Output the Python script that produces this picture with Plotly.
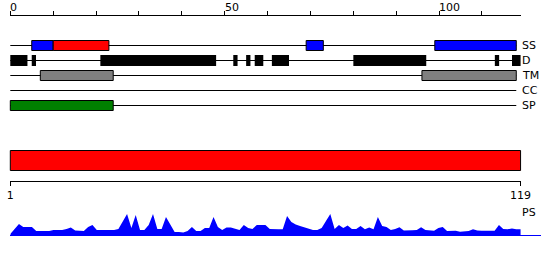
import plotly.graph_objects as go

# ---------------- data ----------------
SEQ_LEN = 119
TRACKS = ["SS", "D", "TM", "CC", "SP"]
TRACK_END = 118

SS_START = [5, 10, 69, 99]
SS_END = [10, 23, 73, 118]
SS_COLOR = ["#0000ff", "#ff0000", "#0000ff", "#0000ff"]

D_START = [0, 5, 21, 52, 55, 57, 61, 80, 113, 117]
D_END = [4, 6, 48, 53, 56, 59, 65, 97, 114, 119]

TM_START = [7, 96]
TM_END = [24, 118]

CC_START = []
CC_END = []

SP_START = [0]
SP_END = [24]

TOP_TICK_LABELS = [0, 50, 100]
BOTTOM_TICKS = [1, 119]
PS_LABEL = "PS"

RESIDUES = list(range(1, SEQ_LEN + 1))
PS_VALUES = [
    1, 6, 11, 8, 8, 8, 4, 4, 4, 4,
    5, 5, 5, 6, 7.5, 4.5, 4, 4, 8, 10,
    5, 5, 5, 5, 5, 6, 14, 21, 7, 20,
    5, 5, 10, 21, 6, 6, 18, 10, 3, 3,
    2.5, 4, 8, 4, 4, 7, 7, 18, 8, 5,
    7.5, 7.5, 6, 5, 10, 7, 6, 10, 10, 10,
    6, 5.5, 5.7, 5.7, 19, 13, 10.5, 9, 7.7, 6.5,
    5, 5, 7, 14, 21, 6, 10, 7, 9.5, 6,
    6, 9, 5.7, 7.5, 5.7, 18, 9, 8, 5, 6,
    7.7, 4.5, 4.3, 4.7, 5, 7.7, 5, 4.5, 4.3, 7,
    8, 4, 4.3, 4.3, 3.3, 3.3, 4, 5.7, 4.5, 4.3,
    4.3, 4.3, 4.3, 10, 6, 5.7, 6.5, 5.7, 5.7,
]

# ---------------- layout constants ----------------
W, H = 550, 260
X0_PX = 10.3
PX_PER = 4.288
X_END_PX = X0_PX + SEQ_LEN * PX_PER
BOT_PX_PER = SEQ_LEN * PX_PER / (SEQ_LEN - 1)
AREA_END_PX = 540.7
FONT = "DejaVu Sans"
FS = 11

TRACK_Y = {"SS": 45.5, "D": 60.5, "TM": 75.5, "CC": 90.5, "SP": 105.5}
BOX_HALF = {"SS": 5, "D": 5.5, "TM": 5, "CC": 5, "SP": 5}

features = {
    "SS": (SS_START, SS_END, SS_COLOR, True),
    "D": (D_START, D_END, ["#000000"] * len(D_START), False),
    "TM": (TM_START, TM_END, ["#808080"] * len(TM_START), True),
    "CC": (CC_START, CC_END, ["#000000"] * len(CC_START), True),
    "SP": (SP_START, SP_END, ["#008000"] * len(SP_START), True),
}

fig = go.Figure()

# profile area
fig.add_trace(go.Scatter(
    x=RESIDUES, y=PS_VALUES, xaxis="x4", yaxis="y2",
    mode="lines", fill="tozeroy", line=dict(width=0, color="#0000ff"),
    fillcolor="#0000ff", hoverinfo="skip", showlegend=False,
))
# invisible anchor traces so every axis gets its subplot
for xa in ["x", "x2", "x3"]:
    fig.add_trace(go.Scatter(x=[1], y=[-100], xaxis=xa, yaxis="y", mode="markers",
                             marker=dict(opacity=0), hoverinfo="skip", showlegend=False))

shapes = []
annotations = []
for t in TRACKS:
    yc = TRACK_Y[t]
    shapes.append(dict(type="line", xref="x", yref="y", x0=0, x1=TRACK_END,
                       y0=yc, y1=yc, line=dict(color="black", width=1)))
    starts, ends, colors, border = features[t]
    h = BOX_HALF[t]
    for s, e, c in zip(starts, ends, colors):
        shapes.append(dict(type="rect", xref="x", yref="y", x0=s, x1=e,
                           y0=yc - h, y1=yc + h, fillcolor=c,
                           line=dict(color="black", width=1 if border else 0)))
    annotations.append(dict(text=t, xref="paper", yref="y", x=X_END_PX / W, y=yc,
                            xanchor="left", yanchor="middle", showarrow=False,
                            xshift=-1, font=dict(family=FONT, size=FS, color="black")))

# whole-sequence bar
shapes.append(dict(type="rect", xref="x", yref="y", x0=0, x1=SEQ_LEN,
                   y0=150.5, y1=170.5, fillcolor="#ff0000",
                   line=dict(color="black", width=1)))

for v in TOP_TICK_LABELS:
    annotations.append(dict(text=str(v), xref="x2", yref="paper", x=v, y=(H - 7.3) / H,
                            xanchor="left", yanchor="middle", showarrow=False, xshift=-2,
                            font=dict(family=FONT, size=FS, color="black")))

annotations.append(dict(text=PS_LABEL, xref="paper", yref="paper", x=X_END_PX / W,
                        y=(H - 212) / H, xanchor="left", yanchor="middle", showarrow=False,
                        xshift=-1, font=dict(family=FONT, size=FS, color="black")))

fig.update_layout(
    width=W, height=H, margin=dict(l=0, r=0, t=0, b=0, autoexpand=False),
    paper_bgcolor="white", plot_bgcolor="rgba(0,0,0,0)", showlegend=False,
    font=dict(family=FONT, size=FS, color="black"),
    xaxis=dict(domain=[0, 1], range=[-X0_PX / PX_PER, (W - X0_PX) / PX_PER],
               visible=False, fixedrange=True),
    yaxis=dict(domain=[0, 1], range=[H, 0], visible=False, fixedrange=True),
    xaxis2=dict(domain=[X0_PX / W, X_END_PX / W], range=[0, SEQ_LEN], anchor="free",
                position=(H - 14.5) / H, side="top", showline=True, linecolor="black",
                linewidth=1, ticks="outside", ticklen=4, tickcolor="black", tick0=0,
                dtick=10, showticklabels=False, showgrid=False, zeroline=False,
                automargin=False),
    xaxis3=dict(domain=[X0_PX / W, X_END_PX / W], range=[1, SEQ_LEN], anchor="free",
                position=(H - 180.5) / H, side="bottom", showline=True, linecolor="black",
                linewidth=1, ticks="outside", ticklen=4, tickcolor="black",
                tickvals=BOTTOM_TICKS, ticktext=[str(v) for v in BOTTOM_TICKS],
                tickfont=dict(family=FONT, size=FS, color="black"),
                showgrid=False, zeroline=False, automargin=False),
    xaxis4=dict(domain=[X0_PX / W, AREA_END_PX / W],
                range=[1, 1 + (AREA_END_PX - X0_PX) / BOT_PX_PER], anchor="y2",
                visible=False),
    yaxis2=dict(domain=[(H - 235.5) / H, (H - 205) / H], range=[-0.5, 30], anchor="x4",
                showticklabels=False, showgrid=False, showline=False, ticks="",
                zeroline=True, zerolinecolor="#0000ff", zerolinewidth=1),
    shapes=shapes, annotations=annotations,
)

fig.write_html("out.html")
